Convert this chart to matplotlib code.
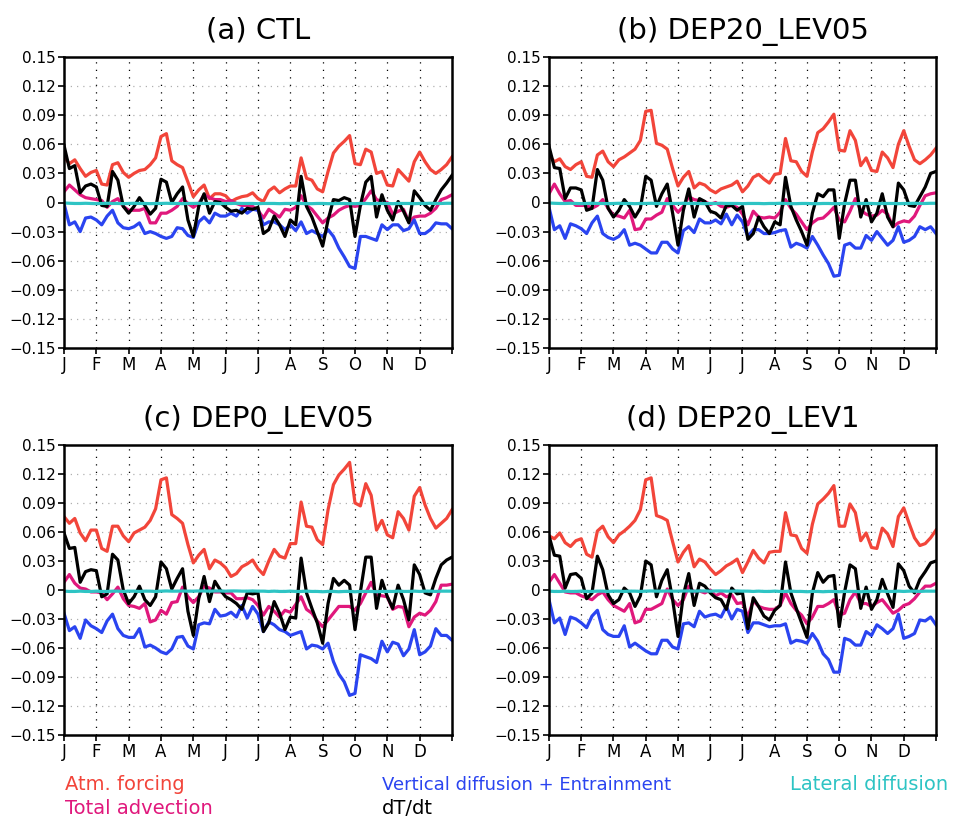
import numpy as np
import matplotlib
matplotlib.use('Agg')
import matplotlib.pyplot as plt

# pentad means of the mixed-layer heat budget terms (73 pentads per year)
months = ['J', 'F', 'M', 'A', 'M', 'J', 'J', 'A', 'S', 'O', 'N', 'D']
titles = ['(a) CTL', '(b) DEP20_LEV05', '(c) DEP0_LEV05', '(d) DEP20_LEV1']

atm_a = [0.047, 0.040, 0.044, 0.035, 0.027, 0.031, 0.033, 0.019, 0.018, 0.039,
         0.041, 0.031, 0.026, 0.030, 0.033, 0.034, 0.039, 0.046, 0.068, 0.071,
         0.043, 0.039, 0.036, 0.021, 0.006, 0.013, 0.018, 0.004, 0.009, 0.009,
         0.007, 0.001, 0.004, 0.006, 0.007, 0.010, 0.004, 0.001, 0.012, 0.016,
         0.010, 0.014, 0.017, 0.017, 0.046, 0.025, 0.023, 0.014, 0.011, 0.032,
         0.051, 0.058, 0.063, 0.069, 0.040, 0.039, 0.055, 0.052, 0.030, 0.032,
         0.018, 0.017, 0.034, 0.028, 0.022, 0.042, 0.052, 0.042, 0.034, 0.030,
         0.034, 0.039, 0.047]
adv_a = [0.011, 0.018, 0.013, 0.008, 0.005, 0.004, 0.003, 0.002, -0.005, 0.001,
         0.004, -0.004, -0.008, -0.008, -0.008, -0.006, -0.021, -0.021, -0.011, -0.011,
         -0.008, -0.004, 0.004, -0.001, -0.005, -0.001, 0.008, 0.005, 0.003, 0.003,
         0.001, 0.002, -0.001, -0.003, -0.003, -0.004, -0.008, -0.016, -0.007, -0.011,
         -0.015, -0.007, -0.008, -0.005, 0.007, -0.003, -0.007, -0.014, -0.021, -0.016,
         -0.013, -0.008, -0.005, -0.003, -0.004, -0.003, 0.004, 0.012, 0.003, 0.001,
         0.000, -0.012, -0.009, -0.007, -0.020, -0.015, -0.014, -0.014, -0.011, -0.006,
         0.003, 0.005, 0.008]
vdiff_a = [-0.001, -0.023, -0.020, -0.030, -0.016, -0.015, -0.018, -0.023, -0.014, -0.008,
           -0.021, -0.026, -0.027, -0.025, -0.021, -0.032, -0.030, -0.032, -0.035, -0.037,
           -0.035, -0.026, -0.027, -0.034, -0.036, -0.020, -0.015, -0.021, -0.011, -0.014,
           -0.014, -0.011, -0.014, -0.006, -0.011, -0.007, -0.008, -0.023, -0.020, -0.020,
           -0.023, -0.028, -0.023, -0.029, -0.020, -0.032, -0.029, -0.032, -0.035, -0.028,
           -0.035, -0.047, -0.056, -0.066, -0.068, -0.035, -0.035, -0.037, -0.039, -0.023,
           -0.028, -0.023, -0.023, -0.029, -0.027, -0.018, -0.032, -0.032, -0.028, -0.021,
           -0.022, -0.022, -0.027]
dtdt_a = [0.059, 0.035, 0.038, 0.010, 0.017, 0.019, 0.016, -0.003, -0.004, 0.032,
          0.023, -0.004, -0.011, -0.004, 0.005, -0.003, -0.012, -0.006, 0.024, 0.021,
          0.000, 0.009, 0.016, -0.018, -0.035, -0.004, 0.009, -0.011, 0.001, 0.000,
          -0.005, -0.009, -0.008, -0.011, -0.006, -0.007, -0.005, -0.032, -0.028, -0.014,
          -0.023, -0.035, -0.018, -0.023, 0.027, -0.004, -0.015, -0.030, -0.045, -0.018,
          0.003, 0.002, 0.005, 0.003, -0.035, -0.003, 0.021, 0.027, -0.015, 0.008,
          -0.008, -0.018, 0.001, -0.009, -0.021, 0.012, 0.005, -0.003, -0.008, 0.003,
          0.013, 0.020, 0.028]

atm_b = [0.049, 0.042, 0.045, 0.037, 0.034, 0.039, 0.042, 0.027, 0.026, 0.049,
         0.053, 0.042, 0.037, 0.044, 0.047, 0.051, 0.055, 0.064, 0.094, 0.095,
         0.061, 0.059, 0.055, 0.035, 0.017, 0.026, 0.032, 0.015, 0.020, 0.018,
         0.013, 0.010, 0.014, 0.016, 0.018, 0.022, 0.011, 0.017, 0.026, 0.029,
         0.024, 0.020, 0.029, 0.030, 0.066, 0.043, 0.042, 0.032, 0.027, 0.052,
         0.072, 0.076, 0.083, 0.091, 0.054, 0.053, 0.074, 0.064, 0.038, 0.046,
         0.033, 0.032, 0.052, 0.046, 0.036, 0.060, 0.074, 0.058, 0.044, 0.040,
         0.044, 0.049, 0.056]
adv_b = [0.009, 0.019, 0.009, 0.001, 0.002, -0.003, -0.003, -0.003, -0.006, -0.003,
         0.003, -0.006, -0.013, -0.014, -0.016, -0.008, -0.028, -0.027, -0.017, -0.017,
         -0.013, -0.010, 0.004, -0.003, -0.010, -0.004, 0.006, 0.003, 0.002, 0.001,
         -0.002, 0.000, -0.004, -0.005, -0.003, -0.005, -0.012, -0.023, -0.009, -0.015,
         -0.016, -0.015, -0.016, -0.010, 0.003, -0.006, -0.012, -0.020, -0.028, -0.021,
         -0.017, -0.016, -0.011, -0.005, -0.018, -0.020, -0.009, 0.004, -0.008, -0.012,
         -0.014, -0.013, -0.008, -0.012, -0.025, -0.021, -0.019, -0.020, -0.014, -0.003,
         0.007, 0.009, 0.010]
vdiff_b = [-0.005, -0.028, -0.024, -0.037, -0.022, -0.024, -0.027, -0.032, -0.021, -0.014,
           -0.032, -0.036, -0.038, -0.035, -0.028, -0.044, -0.042, -0.044, -0.048, -0.052,
           -0.052, -0.041, -0.041, -0.048, -0.052, -0.029, -0.025, -0.031, -0.017, -0.021,
           -0.021, -0.018, -0.022, -0.012, -0.023, -0.013, -0.020, -0.035, -0.028, -0.028,
           -0.032, -0.032, -0.031, -0.029, -0.028, -0.046, -0.042, -0.044, -0.047, -0.035,
           -0.044, -0.054, -0.063, -0.076, -0.075, -0.044, -0.042, -0.047, -0.047, -0.034,
           -0.039, -0.030, -0.037, -0.044, -0.039, -0.025, -0.041, -0.039, -0.035, -0.025,
           -0.028, -0.025, -0.032]
dtdt_b = [0.058, 0.036, 0.035, 0.004, 0.015, 0.015, 0.013, -0.008, -0.006, 0.034,
          0.023, -0.006, -0.015, -0.008, 0.003, -0.004, -0.015, -0.006, 0.027, 0.023,
          -0.004, 0.009, 0.019, -0.011, -0.044, -0.008, 0.014, -0.015, 0.004, 0.001,
          -0.009, -0.011, -0.016, -0.003, -0.003, -0.008, -0.004, -0.038, -0.032, -0.015,
          -0.025, -0.032, -0.020, -0.023, 0.026, -0.004, -0.018, -0.030, -0.044, -0.011,
          0.009, 0.006, 0.013, 0.013, -0.037, -0.001, 0.023, 0.023, -0.015, 0.003,
          -0.020, -0.011, 0.009, -0.015, -0.025, 0.020, 0.013, -0.003, -0.004, 0.006,
          0.016, 0.030, 0.032]

atm_c = [0.076, 0.069, 0.074, 0.059, 0.051, 0.062, 0.062, 0.043, 0.040, 0.066,
         0.066, 0.056, 0.050, 0.059, 0.062, 0.065, 0.072, 0.084, 0.114, 0.116,
         0.078, 0.074, 0.069, 0.047, 0.028, 0.036, 0.042, 0.022, 0.031, 0.028,
         0.023, 0.014, 0.017, 0.024, 0.027, 0.031, 0.022, 0.016, 0.030, 0.042,
         0.035, 0.033, 0.048, 0.048, 0.091, 0.066, 0.065, 0.052, 0.047, 0.083,
         0.109, 0.119, 0.125, 0.132, 0.090, 0.087, 0.110, 0.098, 0.062, 0.072,
         0.057, 0.054, 0.081, 0.074, 0.062, 0.097, 0.106, 0.088, 0.074, 0.064,
         0.069, 0.074, 0.083]
adv_c = [0.008, 0.016, 0.007, 0.002, 0.001, -0.002, -0.002, -0.003, -0.010, -0.004,
         0.003, -0.009, -0.016, -0.017, -0.019, -0.014, -0.033, -0.031, -0.021, -0.025,
         -0.013, -0.012, 0.003, -0.007, -0.013, -0.007, 0.004, 0.002, -0.002, -0.002,
         -0.003, -0.003, -0.009, -0.009, -0.008, -0.010, -0.016, -0.026, -0.017, -0.022,
         -0.028, -0.021, -0.023, -0.015, -0.007, -0.020, -0.024, -0.032, -0.038, -0.031,
         -0.024, -0.017, -0.017, -0.017, -0.021, -0.014, -0.003, 0.008, -0.005, -0.006,
         -0.007, -0.020, -0.017, -0.018, -0.038, -0.028, -0.024, -0.026, -0.021, -0.012,
         0.005, 0.005, 0.006]
vdiff_c = [-0.024, -0.042, -0.038, -0.050, -0.031, -0.037, -0.040, -0.044, -0.032, -0.025,
           -0.040, -0.047, -0.049, -0.049, -0.040, -0.059, -0.057, -0.060, -0.064, -0.066,
           -0.061, -0.049, -0.048, -0.058, -0.061, -0.036, -0.034, -0.035, -0.020, -0.027,
           -0.026, -0.023, -0.028, -0.016, -0.029, -0.017, -0.025, -0.043, -0.033, -0.036,
           -0.041, -0.043, -0.047, -0.045, -0.043, -0.061, -0.057, -0.058, -0.061, -0.055,
           -0.074, -0.087, -0.095, -0.109, -0.107, -0.067, -0.069, -0.071, -0.075, -0.053,
           -0.064, -0.054, -0.056, -0.068, -0.061, -0.041, -0.067, -0.064, -0.058, -0.040,
           -0.047, -0.047, -0.052]
dtdt_c = [0.059, 0.043, 0.044, 0.008, 0.019, 0.021, 0.020, -0.007, -0.004, 0.037,
          0.031, 0.000, -0.014, -0.007, 0.004, -0.010, -0.016, -0.007, 0.029, 0.022,
          0.001, 0.012, 0.022, -0.022, -0.047, -0.009, 0.014, -0.012, 0.009, 0.000,
          -0.007, -0.010, -0.014, -0.020, -0.003, -0.004, -0.003, -0.043, -0.034, -0.012,
          -0.024, -0.041, -0.028, -0.029, 0.033, -0.003, -0.019, -0.034, -0.055, -0.014,
          0.012, 0.005, 0.010, 0.005, -0.041, -0.002, 0.034, 0.034, -0.019, 0.010,
          -0.007, -0.019, 0.005, -0.010, -0.031, 0.026, 0.016, -0.003, -0.005, 0.012,
          0.026, 0.031, 0.034]

atm_d = [0.056, 0.053, 0.059, 0.049, 0.045, 0.051, 0.053, 0.037, 0.034, 0.061,
         0.066, 0.055, 0.049, 0.057, 0.061, 0.066, 0.072, 0.083, 0.114, 0.116,
         0.077, 0.075, 0.072, 0.050, 0.029, 0.039, 0.046, 0.024, 0.032, 0.029,
         0.022, 0.016, 0.020, 0.025, 0.028, 0.032, 0.018, 0.029, 0.041, 0.033,
         0.028, 0.039, 0.040, 0.040, 0.080, 0.057, 0.056, 0.043, 0.038, 0.068,
         0.089, 0.094, 0.100, 0.108, 0.066, 0.066, 0.089, 0.080, 0.051, 0.059,
         0.044, 0.043, 0.064, 0.058, 0.045, 0.076, 0.085, 0.069, 0.054, 0.046,
         0.048, 0.054, 0.062]
adv_d = [0.008, 0.016, 0.007, -0.002, -0.003, -0.003, -0.006, -0.008, -0.010, -0.005,
         -0.002, -0.010, -0.016, -0.019, -0.022, -0.014, -0.034, -0.032, -0.020, -0.020,
         -0.017, -0.014, 0.001, -0.010, -0.016, -0.010, 0.004, -0.002, -0.001, -0.003,
         0.000, -0.006, -0.003, -0.007, -0.005, -0.014, -0.013, -0.028, -0.011, -0.017,
         -0.019, -0.020, -0.020, -0.016, -0.003, -0.014, -0.021, -0.026, -0.035, -0.028,
         -0.017, -0.017, -0.014, -0.010, -0.026, -0.024, -0.010, -0.002, -0.014, -0.014,
         -0.017, -0.013, -0.010, -0.017, -0.024, -0.021, -0.016, -0.014, -0.009, -0.002,
         0.004, 0.004, 0.007]
vdiff_d = [-0.010, -0.034, -0.029, -0.046, -0.028, -0.030, -0.034, -0.039, -0.027, -0.021,
           -0.041, -0.046, -0.048, -0.048, -0.037, -0.059, -0.055, -0.059, -0.063, -0.066,
           -0.066, -0.052, -0.052, -0.059, -0.061, -0.035, -0.034, -0.038, -0.022, -0.028,
           -0.026, -0.025, -0.028, -0.017, -0.030, -0.020, -0.022, -0.044, -0.034, -0.034,
           -0.036, -0.038, -0.037, -0.037, -0.035, -0.055, -0.052, -0.053, -0.055, -0.045,
           -0.053, -0.066, -0.072, -0.085, -0.085, -0.050, -0.052, -0.057, -0.057, -0.043,
           -0.047, -0.036, -0.040, -0.045, -0.040, -0.025, -0.050, -0.048, -0.045, -0.031,
           -0.032, -0.028, -0.036]
dtdt_d = [0.056, 0.036, 0.035, 0.002, 0.016, 0.017, 0.012, -0.009, -0.003, 0.035,
          0.021, -0.005, -0.014, -0.010, 0.002, -0.003, -0.017, -0.006, 0.030, 0.026,
          -0.007, 0.010, 0.021, -0.010, -0.048, -0.005, 0.017, -0.016, 0.007, 0.004,
          -0.003, -0.008, -0.010, -0.020, 0.002, -0.004, -0.003, -0.040, -0.008, -0.017,
          -0.027, -0.031, -0.021, -0.016, 0.029, -0.003, -0.019, -0.034, -0.049, -0.003,
          0.018, 0.008, 0.014, 0.015, -0.038, -0.002, 0.026, 0.022, -0.019, 0.003,
          -0.020, -0.010, 0.011, -0.004, -0.018, 0.027, 0.020, 0.004, -0.003, 0.011,
          0.019, 0.028, 0.030]

# lateral diffusion stays close to zero all year
lat_ab = [-0.0005, -0.0008, -0.0010, -0.0010, -0.0008, -0.0010, -0.0012, -0.0010, -0.0008, -0.0010,
          -0.0010, -0.0012, -0.0010, -0.0008, -0.0010, -0.0010, -0.0012, -0.0010, -0.0010, -0.0008,
          -0.0010, -0.0010, -0.0012, -0.0010, -0.0010, -0.0008, -0.0010, -0.0010, -0.0010, -0.0012,
          -0.0010, -0.0010, -0.0008, -0.0010, -0.0010, -0.0010, -0.0012, -0.0010, -0.0010, -0.0010,
          -0.0012, -0.0010, -0.0010, -0.0008, -0.0010, -0.0012, -0.0012, -0.0010, -0.0010, -0.0012,
          -0.0012, -0.0010, -0.0010, -0.0012, -0.0012, -0.0010, -0.0010, -0.0012, -0.0010, -0.0010,
          -0.0010, -0.0012, -0.0010, -0.0010, -0.0010, -0.0012, -0.0010, -0.0010, -0.0008, -0.0010,
          -0.0010, -0.0008, -0.0008]
lat_cd = [-0.0012, -0.0015, -0.0015, -0.0012, -0.0015, -0.0015, -0.0012, -0.0015, -0.0015, -0.0012,
          -0.0012, -0.0015, -0.0012, -0.0012, -0.0015, -0.0012, -0.0012, -0.0015, -0.0012, -0.0010,
          -0.0012, -0.0012, -0.0010, -0.0012, -0.0012, -0.0010, -0.0010, -0.0012, -0.0010, -0.0010,
          -0.0012, -0.0010, -0.0010, -0.0012, -0.0012, -0.0010, -0.0012, -0.0012, -0.0015, -0.0012,
          -0.0015, -0.0015, -0.0012, -0.0015, -0.0015, -0.0012, -0.0015, -0.0015, -0.0018, -0.0015,
          -0.0015, -0.0018, -0.0015, -0.0015, -0.0018, -0.0015, -0.0015, -0.0015, -0.0018, -0.0015,
          -0.0015, -0.0015, -0.0012, -0.0015, -0.0015, -0.0012, -0.0015, -0.0012, -0.0012, -0.0015,
          -0.0012, -0.0012, -0.0012]

panels = [
    (atm_a, adv_a, vdiff_a, dtdt_a, lat_ab),
    (atm_b, adv_b, vdiff_b, dtdt_b, lat_ab),
    (atm_c, adv_c, vdiff_c, dtdt_c, lat_cd),
    (atm_d, adv_d, vdiff_d, dtdt_d, lat_cd),
]

c_atm = '#f2453a'
c_adv = '#e0187c'
c_vdiff = '#2a44f0'
c_dtdt = 'black'
c_lat = '#2ec4c4'

W, H = 970, 823
fig = plt.figure(figsize=(W / 100, H / 100), dpi=100)

# axes boxes in pixels: left, top, right, bottom
boxes = [(64, 57, 452, 348), (549, 57, 936, 348),
         (64, 445, 452, 735), (549, 445, 936, 735)]

yticks = np.arange(-0.15, 0.151, 0.03)
ylabels = ['0' if abs(v) < 1e-9 else ('%.2f' % v).replace('-', '\u2212') for v in yticks]
pentad = np.arange(len(atm_a))
month_pos = np.arange(0, 73, 6)

for box, title, (atm, adv, vdiff, dtdt, lat) in zip(boxes, titles, panels):
    l, t, r, b = box
    ax = fig.add_axes([l / W, 1 - b / H, (r - l) / W, (b - t) / H])

    for m in month_pos[1:-1]:
        ax.axvline(m, color='black', lw=0.9, ls=(0, (1, 5)), zorder=0)
    for v in yticks[1:-1]:
        ax.axhline(v, color='#b0b0b0', lw=0.9, ls=(0, (1, 4)), zorder=0)

    ax.plot(pentad, atm, color=c_atm, lw=2.3)
    ax.plot(pentad, adv, color=c_adv, lw=2.3)
    ax.plot(pentad, vdiff, color=c_vdiff, lw=2.3)
    ax.plot(pentad, dtdt, color=c_dtdt, lw=2.3)
    ax.plot(pentad, lat, color=c_lat, lw=2.3)

    ax.set_xlim(0, 72)
    ax.set_ylim(-0.15, 0.15)
    ax.set_yticks(yticks)
    ax.set_yticklabels(ylabels, fontsize=11)
    ax.set_xticks(month_pos)
    ax.set_xticklabels(months + [''], fontsize=12)
    ax.tick_params(direction='out', length=4, width=1.2, pad=2)
    for s in ax.spines.values():
        s.set_linewidth(1.8)
    ax.set_title(title, fontsize=21, pad=13)

# legend text under the panels
fig.text(65 / W, 1 - 785 / H, 'Atm. forcing', color=c_atm, fontsize=14, va='center')
fig.text(65 / W, 1 - 808 / H, 'Total advection', color=c_adv, fontsize=14, va='center')
fig.text(382 / W, 1 - 785 / H, 'Vertical diffusion + Entrainment', color=c_vdiff, fontsize=13, va='center')
fig.text(382 / W, 1 - 808 / H, 'dT/dt', color=c_dtdt, fontsize=14, va='center')
fig.text(790 / W, 1 - 785 / H, 'Lateral diffusion', color=c_lat, fontsize=14, va='center')

fig.savefig('out.png', dpi=100)
